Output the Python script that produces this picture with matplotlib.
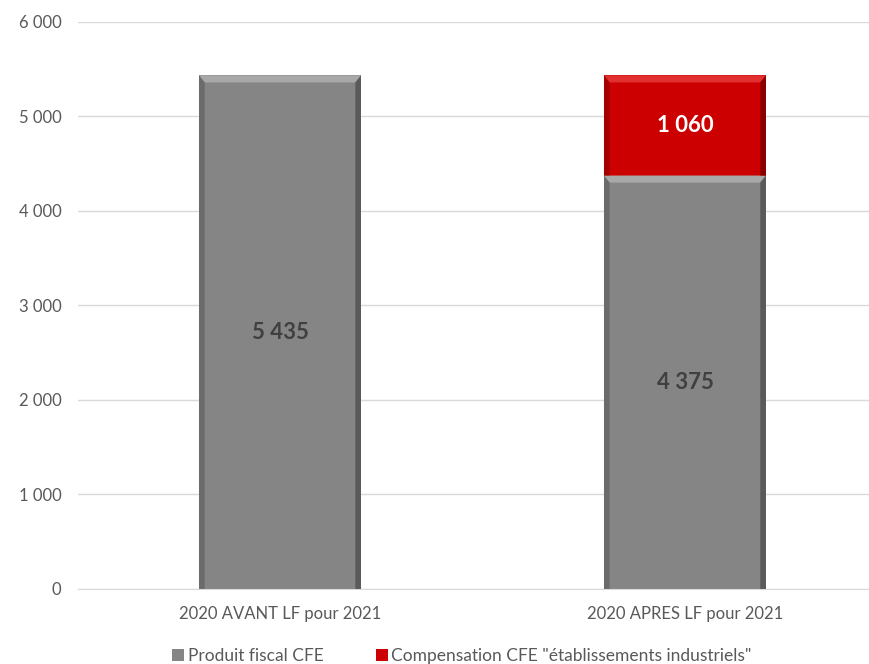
import matplotlib.pyplot as plt
import numpy as np
from matplotlib.patches import Polygon

plt.rcParams['font.family'] = ['Lato', 'DejaVu Sans']

categories = ['2020 AVANT LF pour 2021', '2020 APRES LF pour 2021']
produit = [5435, 4375]
compensation = [0, 1060]
series_names = ['Produit fiscal CFE', 'Compensation CFE "établissements industriels"']
yticks = [0, 1000, 2000, 3000, 4000, 5000, 6000]


def fmt(v):
    return '{:,}'.format(v).replace(',', ' ')


def bevel(ax, rect, light, dark, d=0.014, dy=75):
    # fake the 3D bevel on each bar
    x0, y0 = rect.get_x(), rect.get_y()
    w, h = rect.get_width(), rect.get_height()
    x1, y1 = x0 + w, y0 + h
    ax.add_patch(Polygon([(x0, y1), (x1, y1), (x1 - d, y1 - dy), (x0 + d, y1 - dy)],
                         closed=True, color=light, lw=0, zorder=3))
    ax.add_patch(Polygon([(x1, y0), (x1, y1), (x1 - d, y1 - dy), (x1 - d, y0)],
                         closed=True, color=dark, lw=0, zorder=3))
    ax.add_patch(Polygon([(x0, y0), (x0, y1), (x0 + d, y1 - dy), (x0 + d, y0)],
                         closed=True, color=dark, lw=0, zorder=3, alpha=0.6))


fig = plt.figure(figsize=(8.7, 6.64), dpi=100)
ax = fig.add_axes([0.0897, 0.113, 0.9103, 0.8539])

x = np.arange(len(categories))
b1 = ax.bar(x, produit, width=0.4, color='#858585', zorder=2, label=series_names[0])
b2 = ax.bar(x, compensation, width=0.4, bottom=produit, color='#cc0000', zorder=2,
            label=series_names[1])

for r in b1:
    bevel(ax, r, '#a8a8a8', '#5a5a5a')
for r in b2:
    if r.get_height() > 0:
        bevel(ax, r, '#e03030', '#8a0000')

for i in range(len(categories)):
    ax.text(x[i], produit[i] / 2, fmt(produit[i]), ha='center', va='center',
            fontsize=16, fontweight='bold', color='#404040', zorder=4)
    if compensation[i] > 0:
        ax.text(x[i], produit[i] + compensation[i] / 2, fmt(compensation[i]),
                ha='center', va='center', fontsize=16, fontweight='bold',
                color='white', zorder=4)

ax.set_xlim(-0.4988, 1.457)
ax.set_ylim(0, 6000)
ax.set_yticks(yticks)
ax.set_yticklabels([fmt(v) for v in yticks])
ax.set_xticks(x)
ax.set_xticklabels(categories)
ax.yaxis.grid(True, color='#d9d9d9', lw=1)
ax.set_axisbelow(True)
for s in ['top', 'right', 'left']:
    ax.spines[s].set_visible(False)
ax.spines['bottom'].set_color('#d9d9d9')
ax.tick_params(axis='both', length=0, labelsize=12, colors='#595959')
ax.tick_params(axis='x', pad=12)
ax.tick_params(axis='y', pad=12)

leg = fig.legend(handles=[b1, b2], loc='center', bbox_to_anchor=(0.531, 0.012),
                 ncol=2, frameon=False, fontsize=12.5, handlelength=0.7,
                 handleheight=0.7, handletextpad=0.2, columnspacing=3.0)
for t in leg.get_texts():
    t.set_color('#595959')

fig.savefig('out.png', dpi=100)
